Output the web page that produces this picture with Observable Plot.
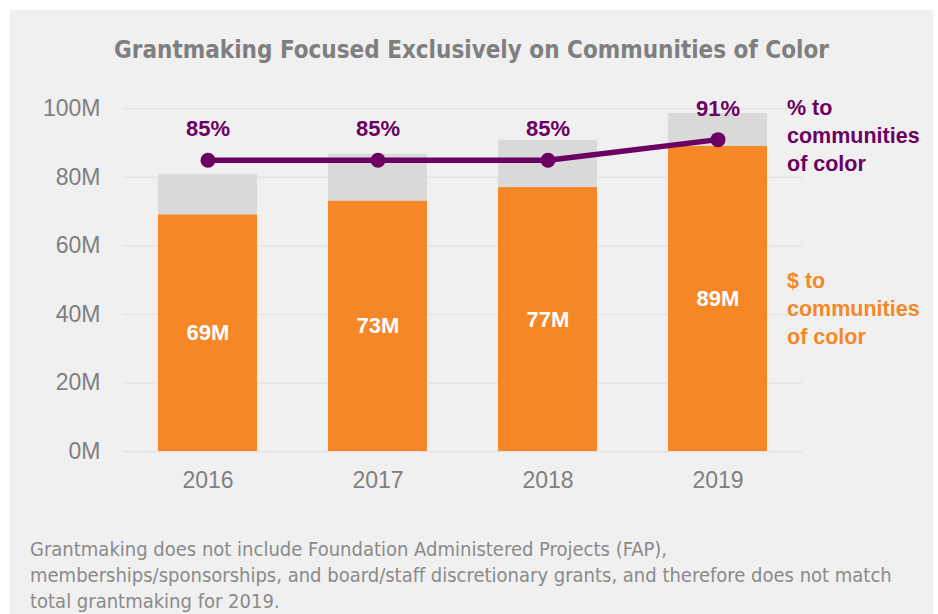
<!DOCTYPE html>
<html>
<head>
<meta charset="utf-8">
<script src="https://cdn.jsdelivr.net/npm/d3@7"></script>
<script src="https://cdn.jsdelivr.net/npm/@observablehq/plot@0.6"></script>
<style>
  html, body { margin: 0; padding: 0; background: #ffffff; }
  #panel {
    position: absolute; left: 10px; top: 10px; width: 923px; height: 604px;
    background: #f0f0f0; overflow: hidden;
    font-family: "Liberation Sans", Arial, sans-serif;
  }
  #title {
    position: absolute; left: 0; top: 26px; width: 923px; text-align: center;
    font-family: "Liberation Sans Narrow", "DejaVu Sans Condensed", sans-serif;
    font-weight: bold; font-size: 24px; color: #7f7f7f;
  }
  #chart { position: absolute; left: 0; top: 70px; }
  #note {
    position: absolute; left: 20px; top: 526px; width: 903px;
    font-family: "Liberation Sans Narrow", "DejaVu Sans Condensed", sans-serif;
    font-size: 20px; line-height: 26px; color: #8a8a8a;
  }
</style>
</head>
<body>
<div id="panel">
  <div id="title">Grantmaking Focused Exclusively on Communities of Color</div>
  <div id="chart"></div>
  <div id="note">Grantmaking does not include Foundation Administered Projects (FAP),<br>memberships/sponsorships, and board/staff discretionary grants, and therefore does not match<br>total grantmaking for 2019.</div>
</div>
<script>
const years = ["2016", "2017", "2018", "2019"];
const totalGrants = [80.8, 86.7, 90.8, 98.6];      // total grantmaking, $M
const colorGrants = [69, 73, 77, 89];              // $ to communities of color, $M
const pctColor = [85, 85, 85, 91];                 // % to communities of color
const yTicks = [0, 20, 40, 60, 80, 100];

const purple = "#6b0062";
const orange = "#f58727";

const rows = years.map((y, i) => ({
  year: y, total: totalGrants[i], color: colorGrants[i], pct: pctColor[i]
}));
const last = rows[rows.length - 1];

const plot = Plot.plot({
  width: 923,
  height: 440,
  marginLeft: 112,
  marginRight: 131,
  marginTop: 28.3,
  marginBottom: 69,
  style: { background: "transparent", fontFamily: "'Liberation Sans', Arial, sans-serif" },
  x: { domain: years, paddingInner: 0.42, paddingOuter: 0.21, label: null },
  y: { domain: [0, 100], label: null },
  marks: [
    Plot.ruleY(yTicks, { stroke: "#e3e3e3", strokeWidth: 1.5 }),
    Plot.axisY({ ticks: yTicks, tickSize: 0, tickPadding: 22, tickFormat: d => d + "M",
      fontSize: 23, fill: "#7f7f7f", label: null }),
    Plot.axisX({ tickSize: 0, tickPadding: 20, fontSize: 23, fill: "#7f7f7f", label: null }),
    Plot.barY(rows, { x: "year", y: "total", fill: "#d9d9d9" }),
    Plot.barY(rows, { x: "year", y: "color", fill: orange }),
    Plot.text(rows, { x: "year", y: d => d.color / 2, text: d => d.color + "M",
      fill: "white", fontSize: 22, fontWeight: "bold" }),
    Plot.line(rows, { x: "year", y: "pct", stroke: purple, strokeWidth: 5.5 }),
    Plot.dot(rows, { x: "year", y: "pct", r: 7.5, fill: purple }),
    Plot.text(rows, { x: "year", y: "pct", text: d => d.pct + "%", dy: -31,
      fill: purple, fontSize: 22, fontWeight: "bold" }),
    Plot.text([last], { x: "year", y: "pct", text: () => "% to\ncommunities\nof color",
      dx: 69, dy: -6, textAnchor: "start", lineHeight: 1.3,
      fill: purple, fontSize: 21.5, fontWeight: "bold" }),
    Plot.text([last], { x: "year", y: d => d.color / 2, text: () => "$ to\ncommunities\nof color",
      dx: 69, dy: 8, textAnchor: "start", lineHeight: 1.3,
      fill: orange, fontSize: 21.5, fontWeight: "bold" })
  ]
});
document.getElementById("chart").appendChild(plot);
</script>
</body>
</html>
